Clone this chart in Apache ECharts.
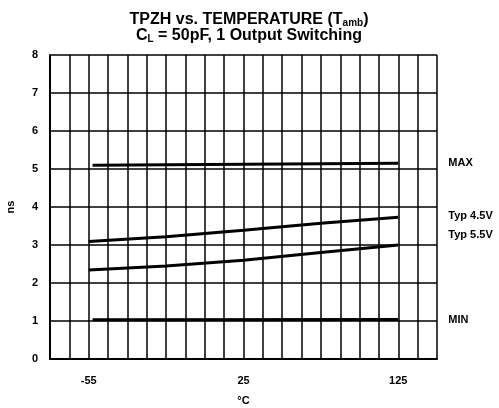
<!DOCTYPE html>
<html>
<head>
<meta charset="utf-8">
<script src="https://cdn.jsdelivr.net/npm/echarts@6/dist/echarts.min.js"></script>
<style>
  html, body { margin: 0; padding: 0; background: #fff; }
  #chart { width: 499px; height: 408px; }
</style>
</head>
<body>
<div id="chart"></div>
<script>
// x positions are grid columns (the source axis is not to scale: -55, 25, 125 are evenly spaced)
const tickLabels = { 2: '-55', 10: '25', 18: '125' }
const xTyp = [2, 6, 10, 14, 18]
const xFlat = [2.2, 18]

const maxVals = [5.1, 5.15]
const typ45Vals = [3.09, 3.22, 3.39, 3.57, 3.73]
const typ55Vals = [2.34, 2.45, 2.6, 2.8, 3.0]
const minVals = [1.03, 1.04]

const FONT = 'Liberation Sans, Arial, sans-serif'

function pairs(xs, ys) {
  return xs.map((x, i) => [x, ys[i]])
}

function lineSeries(name, data, offset) {
  return {
    name: name,
    type: 'line',
    data: data,
    symbol: 'none',
    silent: true,
    lineStyle: { color: '#000', width: 3 },
    endLabel: {
      show: true,
      formatter: name,
      distance: 50,
      offset: offset || [0, 0],
      color: '#000',
      fontFamily: FONT,
      fontWeight: 'bold',
      fontSize: 11
    }
  }
}

let chart = echarts.init(document.getElementById('chart'))
let option = {
  animation: false,
  title: {
    left: 244,
    textAlign: 'center',
    top: 7,
    text: '{a|TPZH vs. TEMPERATURE (T}{s|amb}{a|)}\n{a|C}{s|L}{a| = 50pF, 1 Output Switching}',
    textStyle: {
      rich: {
        a: { fontFamily: FONT, fontWeight: 'bold', fontSize: 16, color: '#000', lineHeight: 16 },
        s: { fontFamily: FONT, fontWeight: 'bold', fontSize: 10, color: '#000', verticalAlign: 'bottom', padding: [5, 0, 0, 0] }
      }
    }
  },
  grid: { left: 50, top: 55, right: 62, bottom: 49, outerBoundsMode: 'none' },
  xAxis: {
    type: 'value',
    min: 0,
    max: 20,
    interval: 1,
    name: '°C',
    nameLocation: 'middle',
    nameGap: 36,
    nameTextStyle: { fontFamily: FONT, fontWeight: 'bold', fontSize: 11, color: '#000' },
    axisLine: { lineStyle: { color: '#000', width: 2 } },
    axisTick: { show: false },
    axisLabel: {
      margin: 16,
      fontFamily: FONT,
      fontWeight: 'bold',
      fontSize: 11,
      color: '#000',
      showMinLabel: true,
      showMaxLabel: true,
      formatter: v => tickLabels[v] || ''
    },
    splitLine: { show: true, lineStyle: { color: '#000', width: 1.5 } }
  },
  yAxis: {
    type: 'value',
    min: 0,
    max: 8,
    interval: 1,
    name: 'ns',
    nameLocation: 'middle',
    nameGap: 34,
    nameRotate: 90,
    nameTextStyle: { fontFamily: FONT, fontWeight: 'bold', fontSize: 11, color: '#000' },
    axisLine: { show: true, lineStyle: { color: '#000', width: 2 } },
    axisTick: { show: false },
    axisLabel: { margin: 12, fontFamily: FONT, fontWeight: 'bold', fontSize: 11, color: '#000' },
    splitLine: { show: true, lineStyle: { color: '#000', width: 1.5 } }
  },
  series: [
    lineSeries('MAX', pairs(xFlat, maxVals)),
    lineSeries('Typ 4.5V', pairs(xTyp, typ45Vals), [0, -1]),
    lineSeries('Typ 5.5V', pairs(xTyp, typ55Vals), [0, -10]),
    lineSeries('MIN', pairs(xFlat, minVals))
  ]
}
chart.setOption(option)
</script>
</body>
</html>
